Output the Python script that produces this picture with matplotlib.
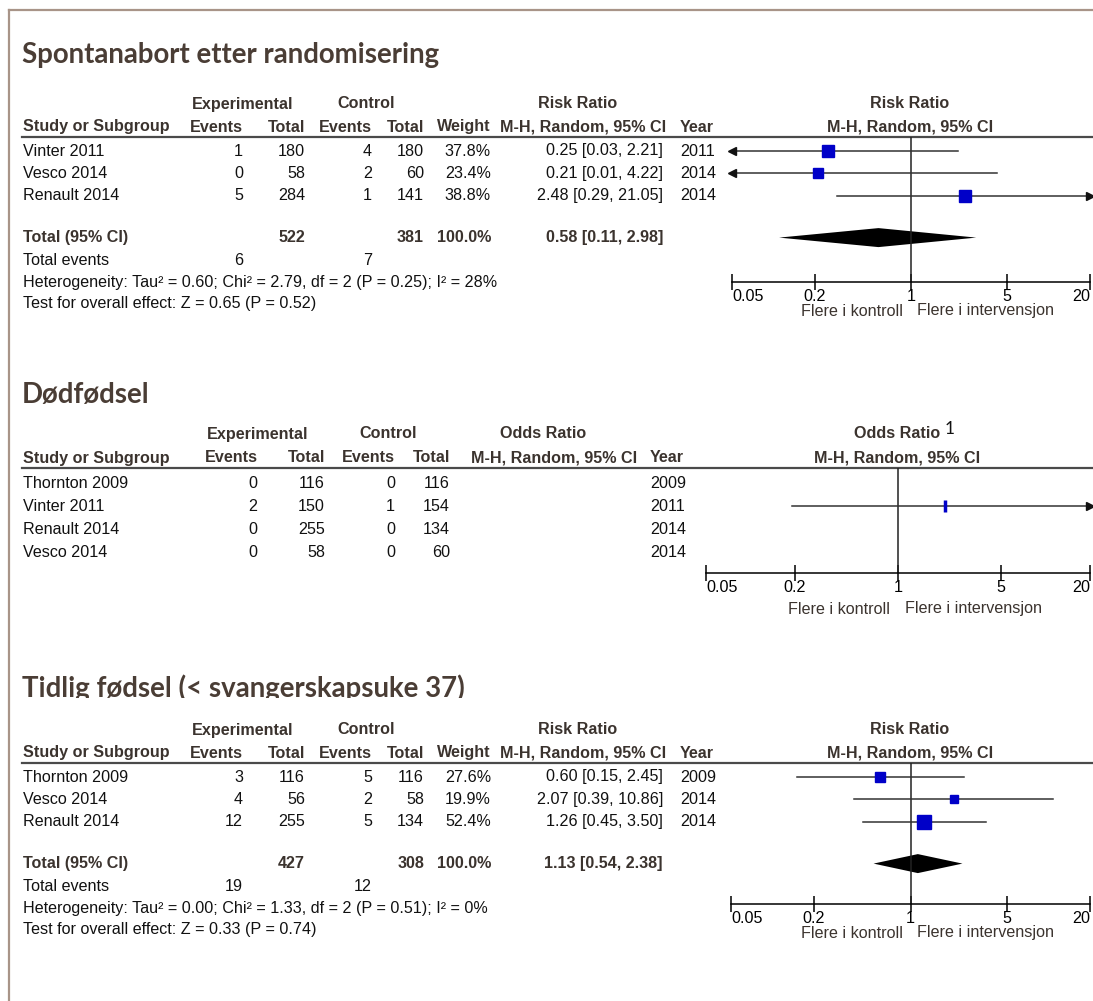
"""Forest plots: miscarriage, stillbirth and preterm birth, three outcome panels."""
import matplotlib.pyplot as plt
import numpy as np
from matplotlib.ticker import NullLocator
from matplotlib.transforms import Bbox

W, H = 1093, 1001
TABLE_FONT = "Liberation Sans"
TITLE_FONT = "Lato"
FS = 11.65
HEAD_C = "#3b332e"
TITLE_C = "#4a3d35"
BOX_C = "#a89488"
SQ_C = "#0000c8"

# --- Spontanabort etter randomisering (risk ratio) ---
studies1 = ["Vinter 2011", "Vesco 2014", "Renault 2014"]
exp_ev1 = [1, 0, 5]
exp_n1 = [180, 58, 284]
ctl_ev1 = [4, 2, 1]
ctl_n1 = [180, 60, 141]
weight1 = [37.8, 23.4, 38.8]
rr1 = [0.25, 0.21, 2.48]
lo1 = [0.03, 0.01, 0.29]
hi1 = [2.21, 4.22, 21.05]
year1 = [2011, 2014, 2014]
tot1 = dict(exp_n=522, ctl_n=381, est=0.58, lo=0.11, hi=2.98, exp_ev=6, ctl_ev=7)
het1 = "Heterogeneity: Tau² = 0.60; Chi² = 2.79, df = 2 (P = 0.25); I² = 28%"
test1 = "Test for overall effect: Z = 0.65 (P = 0.52)"

# --- Dødfødsel (odds ratio), only Vinter is estimable ---
studies2 = ["Thornton 2009", "Vinter 2011", "Renault 2014", "Vesco 2014"]
exp_ev2 = [0, 2, 0, 0]
exp_n2 = [116, 150, 255, 58]
ctl_ev2 = [0, 1, 0, 0]
ctl_n2 = [116, 154, 134, 60]
or2 = [np.nan, 2.07, np.nan, np.nan]
lo2 = [np.nan, 0.19, np.nan, np.nan]
hi2 = [np.nan, 22.95, np.nan, np.nan]
year2 = [2009, 2011, 2014, 2014]

# --- Tidlig fødsel (< svangerskapsuke 37) (risk ratio) ---
studies3 = ["Thornton 2009", "Vesco 2014", "Renault 2014"]
exp_ev3 = [3, 4, 12]
exp_n3 = [116, 56, 255]
ctl_ev3 = [5, 2, 5]
ctl_n3 = [116, 58, 134]
weight3 = [27.6, 19.9, 52.4]
rr3 = [0.60, 2.07, 1.26]
lo3 = [0.15, 0.39, 0.45]
hi3 = [2.45, 10.86, 3.50]
year3 = [2009, 2014, 2014]
tot3 = dict(exp_n=427, ctl_n=308, est=1.13, lo=0.54, hi=2.38, exp_ev=19, ctl_ev=12)
het3 = "Heterogeneity: Tau² = 0.00; Chi² = 1.33, df = 2 (P = 0.51); I² = 0%"
test3 = "Test for overall effect: Z = 0.33 (P = 0.74)"

xticks = [0.05, 0.2, 1, 5, 20]
xtick_labels = ["0.05", "0.2", "1", "5", "20"]
XMIN, XMAX = 0.05, 20

fig = plt.figure(figsize=(W / 100, H / 100), dpi=100)
bg = fig.add_axes([0, 0, 1, 1])
bg.set_xlim(0, W)
bg.set_ylim(H, 0)
bg.axis("off")

# light frame round the page
bg.plot([9, W], [10, 10], color=BOX_C, lw=1.6)
bg.plot([9, 9], [10, H], color=BOX_C, lw=1.6)


def txt(x, y, s, ha="left", bold=False, color="#111111", size=FS):
    return bg.text(x, y, s, ha=ha, va="center", fontsize=size, family=TABLE_FONT,
                   fontweight="bold" if bold else "normal", color=color)


def forest_axes(x0, x1, ytop, yaxis):
    ax = fig.add_axes([x0 / W, 1 - yaxis / H, (x1 - x0) / W, (yaxis - ytop) / H])
    ax.set_xscale("log")
    ax.set_xlim(XMIN, XMAX)
    ax.set_ylim(yaxis, ytop)
    ax.patch.set_alpha(0)
    for s in ("top", "left", "right"):
        ax.spines[s].set_visible(False)
    ax.spines["bottom"].set_linewidth(1.1)
    ax.set_yticks([])
    ax.xaxis.set_minor_locator(NullLocator())
    ax.set_xticks(xticks, xtick_labels, fontsize=FS, family=TABLE_FONT)
    ax.tick_params(axis="x", direction="inout", length=12, width=1.1, pad=-1)
    labs = ax.get_xticklabels()
    labs[0].set_horizontalalignment("left")
    labs[-1].set_horizontalalignment("right")
    ax.axvline(1, color="#222222", lw=1.1)
    return ax


def ci_line(ax, y, lo, hi):
    a, b = max(lo, XMIN), min(hi, XMAX)
    ax.plot([a, b], [y, y], color="#333333", lw=1.1, clip_on=False)
    if lo < XMIN:
        ax.plot(XMIN, y, marker="<", ms=6, color="#111111", clip_on=False)
    if hi > XMAX:
        ax.plot(XMAX, y, marker=">", ms=6, color="#111111", clip_on=False)


def diamond(ax, y, est, lo, hi, half=9.5):
    ax.fill([lo, est, hi, est], [y, y - half, y, y + half], color="black", lw=0)


def panel_title(y, s, clip_at=None):
    t = bg.text(22, y, s, ha="left", va="center", fontsize=19.9, family=TITLE_FONT,
                fontweight="bold", color=TITLE_C)
    if clip_at is not None:
        t.set_clip_box(Bbox.from_extents(0, H - clip_at, W, H))
        t.set_clip_on(True)


def rr_panel(top, studies, exp_ev, exp_n, ctl_ev, ctl_n, weight, rr, lo, hi, year,
             tot, het, test, title, title_y, title_clip=None, xl=732, yaxis_off=145):
    panel_title(title_y, title, title_clip)
    h1, h2, rule = top - 33, top - 10, top
    txt(243, h1, "Experimental", "center", True, HEAD_C)
    txt(366, h1, "Control", "center", True, HEAD_C)
    txt(578, h1, "Risk Ratio", "center", True, HEAD_C)
    txt(910, h1, "Risk Ratio", "center", True, HEAD_C)
    txt(23, h2, "Study or Subgroup", "left", True, HEAD_C)
    for x, s in [(243, "Events"), (305, "Total"), (372, "Events"), (424, "Total"),
                 (491, "Weight"), (666, "M-H, Random, 95% CI")]:
        txt(x, h2, s, "right", True, HEAD_C)
    txt(680, h2, "Year", "left", True, HEAD_C)
    txt(910, h2, "M-H, Random, 95% CI", "center", True, HEAD_C)
    bg.plot([22, W], [rule, rule], color="#4a4a4a", lw=1.6)

    rows = [rule + 14 + 22.3 * i for i in range(len(studies))]
    for y, st, e, n, c, m, w, r, l, u, yr in zip(rows, studies, exp_ev, exp_n, ctl_ev,
                                                  ctl_n, weight, rr, lo, hi, year):
        txt(23, y, st)
        txt(243, y, str(e), "right")
        txt(305, y, str(n), "right")
        txt(372, y, str(c), "right")
        txt(424, y, str(m), "right")
        txt(491, y, f"{w:.1f}%", "right")
        txt(663, y, f"{r:.2f} [{l:.2f}, {u:.2f}]", "right")
        txt(680, y, str(yr))

    ytot = rows[-1] + 42
    txt(23, ytot, "Total (95% CI)", bold=True, color=HEAD_C)
    txt(305, ytot, str(tot["exp_n"]), "right", True, HEAD_C)
    txt(424, ytot, str(tot["ctl_n"]), "right", True, HEAD_C)
    txt(491, ytot, "100.0%", "right", True, HEAD_C)
    txt(663, ytot, f"{tot['est']:.2f} [{tot['lo']:.2f}, {tot['hi']:.2f}]", "right", True, HEAD_C)
    yev = ytot + 23
    txt(23, yev, "Total events")
    txt(243, yev, str(tot["exp_ev"]), "right")
    txt(372, yev, str(tot["ctl_ev"]), "right")
    txt(23, yev + 22, het)
    txt(23, yev + 43, test)

    yaxis = rule + yaxis_off
    ax = forest_axes(xl, 1090, rule, yaxis)
    for y, w, r, l, u in zip(rows, weight, rr, lo, hi):
        ci_line(ax, y, l, u)
        ax.plot(r, y, marker="s", ms=1.95 * np.sqrt(w) * 0.72, color=SQ_C, mec=SQ_C)
    diamond(ax, ytot, tot["est"], tot["lo"], tot["hi"])
    txt(903, yaxis + 29, "Flere i kontroll", "right", color=HEAD_C)
    txt(917, yaxis + 29, "Flere i intervensjon", "left", color=HEAD_C)


rr_panel(137, studies1, exp_ev1, exp_n1, ctl_ev1, ctl_n1, weight1, rr1, lo1, hi1, year1,
         tot1, het1, test1, "Spontanabort etter randomisering", title_y=55)

# --- odds ratio panel ---
top = 468
panel_title(395, "Dødfødsel")
h1, h2 = top - 34, top - 10
txt(258, h1, "Experimental", "center", True, HEAD_C)
txt(388, h1, "Control", "center", True, HEAD_C)
txt(543, h1, "Odds Ratio", "center", True, HEAD_C)
txt(897, h1, "Odds Ratio", "center", True, HEAD_C)
bg.text(945, h1 - 5, "1", ha="left", va="center", fontsize=12.5, family=TITLE_FONT, color="#111111")
txt(23, h2, "Study or Subgroup", "left", True, HEAD_C)
for x, s in [(258, "Events"), (325, "Total"), (395, "Events"), (450, "Total"),
             (637, "M-H, Random, 95% CI")]:
    txt(x, h2, s, "right", True, HEAD_C)
txt(650, h2, "Year", "left", True, HEAD_C)
txt(897, h2, "M-H, Random, 95% CI", "center", True, HEAD_C)
bg.plot([22, W], [top, top], color="#4a4a4a", lw=1.6)

rows2 = [top + 15 + 23.3 * i for i in range(len(studies2))]
for y, st, e, n, c, m, yr in zip(rows2, studies2, exp_ev2, exp_n2, ctl_ev2, ctl_n2, year2):
    txt(23, y, st)
    txt(257, y, str(e), "right")
    txt(325, y, str(n), "right")
    txt(395, y, str(c), "right")
    txt(450, y, str(m), "right")
    txt(650, y, str(yr))

ax2 = forest_axes(706, 1090, top, 573)
for y, r, l, u in zip(rows2, or2, lo2, hi2):
    if np.isnan(r):
        continue
    ci_line(ax2, y, l, u)
    ax2.plot(r, y, marker="|", ms=9, mew=2.5, color=SQ_C)
txt(890, 609, "Flere i kontroll", "right", color=HEAD_C)
txt(905, 609, "Flere i intervensjon", "left", color=HEAD_C)

rr_panel(763, studies3, exp_ev3, exp_n3, ctl_ev3, ctl_n3, weight3, rr3, lo3, hi3, year3,
         tot3, het3, test3, "Tidlig fødsel (< svangerskapsuke 37)", title_y=688,
         title_clip=698, xl=731, yaxis_off=141)

fig.savefig("out.png", dpi=100)
